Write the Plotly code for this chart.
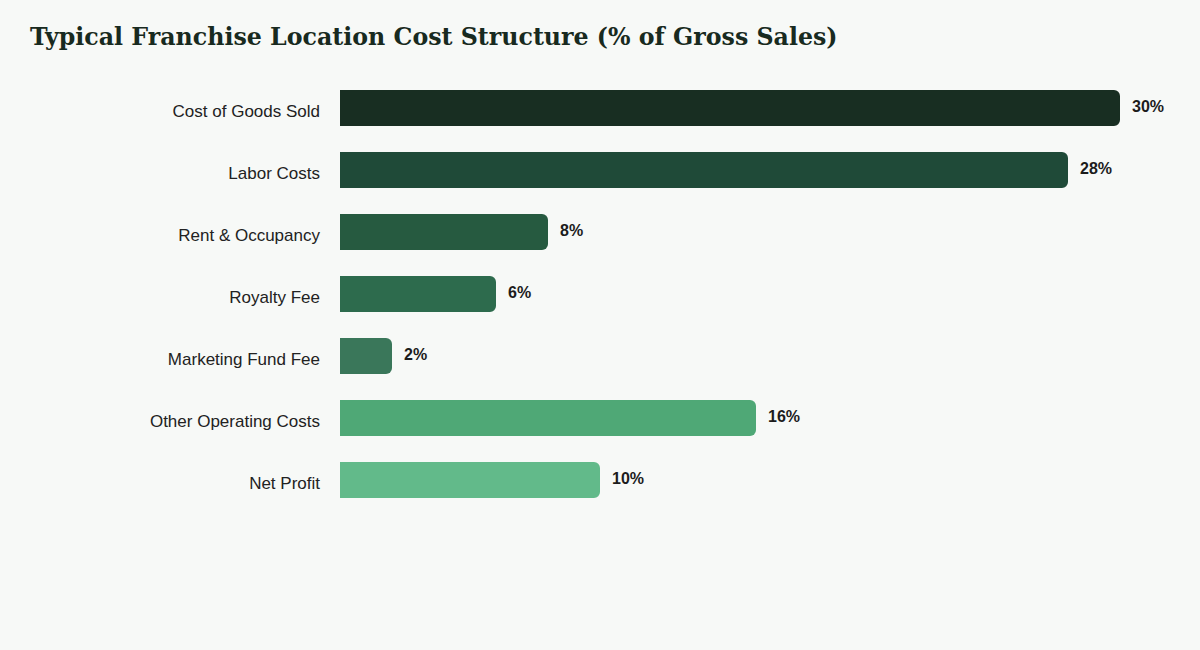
import plotly.graph_objects as go

categories = ["Cost of Goods Sold", "Labor Costs", "Rent & Occupancy", "Royalty Fee",
              "Marketing Fund Fee", "Other Operating Costs", "Net Profit"]
values = [30, 28, 8, 6, 2, 16, 10]
colors = ["#182e22", "#1f4a38", "#265a40", "#2d6b4d", "#3a775a", "#4fa876", "#62ba8a"]
labels = [f"{v}%" for v in values]

fig = go.Figure()
fig.add_trace(go.Bar(
    x=values, y=categories, orientation="h",
    marker=dict(color=colors, line=dict(width=0)),
    width=0.58, hoverinfo="skip",
))

for c, v, t in zip(categories, values, labels):
    fig.add_annotation(x=v, y=c, text=f"<b>{t}</b>", showarrow=False,
                       xanchor="left", xshift=10, yshift=2,
                       font=dict(family="Liberation Sans, Arial, sans-serif", size=16, color="#1c1c1c"))

fig.update_layout(
    width=1200, height=650,
    paper_bgcolor="#f7f9f7", plot_bgcolor="#f7f9f7",
    margin=dict(l=340, r=28, t=77, b=139),
    barcornerradius=6,
    showlegend=False,
    title=dict(text="<b>Typical Franchise Location Cost Structure (% of Gross Sales)</b>",
               x=0.025, xanchor="left", y=0.943, yanchor="middle",
               font=dict(family="DejaVu Serif, Georgia, serif", size=23.7, color="#182a20")),
    xaxis=dict(range=[0, 32], visible=False, showgrid=False, zeroline=False),
    yaxis=dict(autorange="reversed", showgrid=False, zeroline=False, showline=False,
               ticks="", ticklabelstandoff=19, ticklabelshift=-3,
               tickfont=dict(family="Liberation Sans, Arial, sans-serif", size=17, color="#222222")),
)

fig.write_html("out.html")
